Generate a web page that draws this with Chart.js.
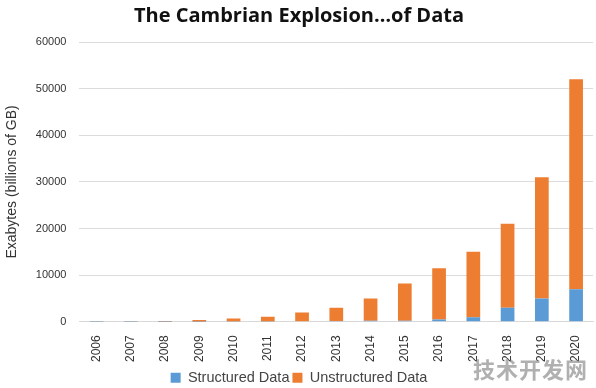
<!DOCTYPE html>
<html>
<head>
<meta charset="utf-8">
<script src="https://cdn.jsdelivr.net/npm/chart.js@4"></script>
<style>
  html, body { margin: 0; padding: 0; background: #fff; }
  #wrap { position: relative; width: 596px; height: 388px; }
  #mark { position: absolute; right: 8px; bottom: 4px; font: bold 22px "Noto Sans CJK SC"; color: rgba(150,150,150,0.75); letter-spacing: 1px; }
</style>
</head>
<body>
<div id="wrap">
  <canvas id="chart" width="596" height="388"></canvas>
  <div id="mark">技术开发网</div>
</div>
<script>
// years on the x axis
const years = ["2006", "2007", "2008", "2009", "2010", "2011", "2012", "2013", "2014", "2015", "2016", "2017", "2018", "2019", "2020"];
// exabytes
const structured = [5, 8, 15, 25, 40, 60, 100, 150, 250, 250, 500, 1000, 3000, 5000, 7000];
const unstructured = [45, 72, 145, 375, 660, 1040, 1900, 2850, 4750, 7950, 11000, 14000, 18000, 26000, 45000];

var ctx = document.getElementById("chart").getContext("2d");
var myChart = new Chart(ctx, {
  type: "bar",
  data: {
    labels: years,
    datasets: [
      {
        label: "Structured Data",
        data: structured,
        backgroundColor: "#5B9BD5",
        barPercentage: 0.4,
        categoryPercentage: 1,
      },
      {
        label: "Unstructured Data",
        data: unstructured,
        backgroundColor: "#ED7D31",
        barPercentage: 0.4,
        categoryPercentage: 1,
      },
    ],
  },
  options: {
    responsive: false,
    animation: false,
    layout: { padding: { left: 2, right: 0, top: 4, bottom: -7 } },
    plugins: {
      title: {
        display: true,
        text: "The Cambrian Explosion…of Data",
        color: "#111",
        font: { family: "Open Sans", size: 20, weight: "bold" },
        padding: { top: 0, bottom: 14 },
      },
      legend: {
        position: "bottom",
        labels: {
          boxWidth: 10,
          boxHeight: 10,
          color: "#444",
          font: { family: "Liberation Sans", size: 14.5 },
          padding: 3,
        },
      },
      tooltip: { enabled: false },
    },
    scales: {
      x: {
        stacked: true,
        grid: { display: false },
        border: { color: "#d9d9d9" },
        ticks: {
          minRotation: 90,
          maxRotation: 90,
          padding: 5.5,
          color: "#333",
          font: { family: "Liberation Sans", size: 12 },
        },
      },
      y: {
        stacked: true,
        min: 0,
        max: 60000,
        ticks: {
          stepSize: 10000,
          color: "#333",
          padding: 13,
          font: { family: "Liberation Sans", size: 11 },
          callback: function (v) { return String(v); },
        },
        grid: { color: "#dcdcdc", drawTicks: false },
        border: { display: false },
        title: {
          display: true,
          text: "Exabytes (billions of GB)",
          color: "#333",
          padding: 2,
          font: { family: "Liberation Sans", size: 14 },
        },
      },
    },
  },
});
</script>
</body>
</html>
